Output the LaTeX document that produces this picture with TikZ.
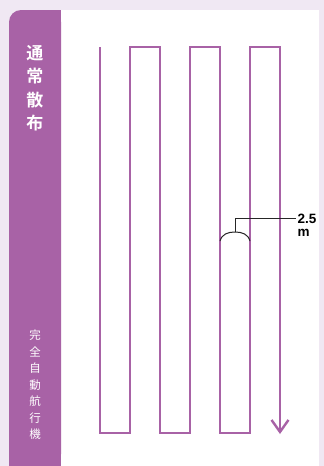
\documentclass[tikz,border=0pt]{standalone}
\usepackage{fontspec}
\newfontfamily\cjk{Noto Sans CJK JP}
\newfontfamily\cjkb{Noto Sans CJK JP Bold}
\setmainfont{Liberation Sans}
\usetikzlibrary{arrows.meta}
\definecolor{bgl}{HTML}{F0E8F3}
\definecolor{pur}{HTML}{A862A6}
\tikzset{
  route/.style={draw=pur,line width=2.4pt,line join=miter},
  dim/.style={draw=black!85,line width=1pt},
  side/.style={text=white,align=center,inner sep=0pt}
}
\begin{document}
\begin{tikzpicture}[x=1pt,y=-1pt]
\useasboundingbox (0,0) rectangle (324,466);
\fill[bgl] (0,0) rectangle (324,466);
\fill[white] (61,10) rectangle (319,466);
\fill[pur,rounded corners=12pt] (9,466) -- (9,10) -- (61,10) -- (61,466) -- cycle;
\fill[pur] (9,455) rectangle (61,466);
\fill[pur] (40,10) rectangle (61,466);
\node[side,font=\cjkb\fontsize{17}{23.5}\selectfont] (t1) at (35,88) {通\\常\\散\\布};
\node[side,font=\cjk\fontsize{11.5}{16.5}\selectfont] (t2) at (35,385) {完\\全\\自\\動\\航\\行\\機};
\coordinate (s) at (100,47);
\coordinate (e) at (280,434);
\draw[route,-{Straight Barb[length=12pt,width=17pt,line width=2.4pt]}]
  (s) -- (100,433) -- (130,433) -- (130,47) -- (160,47) -- (160,433) -- (190,433)
  -- (190,47) -- (220,47) -- (220,433) -- (250,433) -- (250,47) -- (280,47) -- (e);
\coordinate (al) at (220,241);
\coordinate (ar) at (250,241);
\coordinate (ap) at (235,232);
\coordinate (lt) at (235,218);
\coordinate (le) at (296,218);
\draw[dim] (al) .. controls (222,234) and (228,232) .. (ap) .. controls (242,232) and (248,234) .. (ar);
\draw[dim] (ap) -- (lt) -- (le);
\node[font=\bfseries\fontsize{13.5}{13}\selectfont,anchor=west,inner sep=0pt,align=left] (lab) at (297.5,225) {2.5\\m};
\end{tikzpicture}
\end{document}
